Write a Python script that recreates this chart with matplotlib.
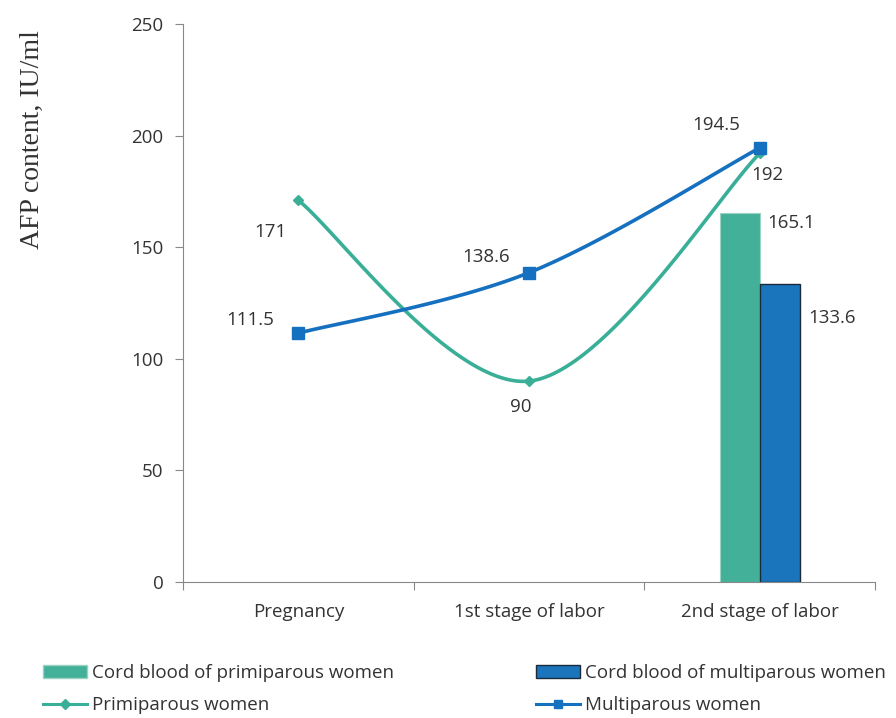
import numpy as np
import matplotlib.pyplot as plt
from matplotlib.lines import Line2D
from matplotlib.patches import Patch

categories = ['Pregnancy', '1st stage of labor', '2nd stage of labor']
primiparous = [171, 90, 192]
multiparous = [111.5, 138.6, 194.5]
cord_primiparous = 165.1
cord_multiparous = 133.6

teal = '#3AAF98'
blue = '#1570BF'
bar_teal = '#43B09A'
bar_blue = '#1B75BC'

W, H = 896, 718


def smooth(xs, ys, n=60):
    # Excel-style smoothed line (Catmull-Rom Bezier segments)
    pts = np.column_stack([xs, ys]).astype(float)
    ext = np.vstack([pts[0], pts, pts[-1]])
    out = []
    for i in range(len(pts) - 1):
        p0, p1, p2, p3 = ext[i], ext[i + 1], ext[i + 2], ext[i + 3]
        c1 = p1 + (p2 - p0) / 6
        c2 = p2 - (p3 - p1) / 6
        t = np.linspace(0, 1, n)[:, None]
        seg = ((1 - t) ** 3) * p1 + 3 * ((1 - t) ** 2) * t * c1 + 3 * (1 - t) * t ** 2 * c2 + t ** 3 * p2
        out.append(seg)
    out = np.vstack(out)
    return out[:, 0], out[:, 1]


fig = plt.figure(figsize=(W / 100, H / 100), dpi=100)
ax = fig.add_axes([183 / W, 1 - 582 / H, 692 / W, 558 / H])

x = np.arange(len(categories)) + 0.5
bw = 0.173

ax.bar(x[2] - bw / 2, cord_primiparous, width=bw, color=bar_teal, edgecolor='#9ad3c4', linewidth=0.8, zorder=2)
ax.bar(x[2] + bw / 2, cord_multiparous, width=bw, color=bar_blue, edgecolor='#1a2a3a', linewidth=1.0, zorder=2)

sx, sy = smooth(x, primiparous)
ax.plot(sx, sy, color=teal, lw=2.6, zorder=3)
ax.plot(x, primiparous, 'D', color=teal, ms=5, zorder=4)
sx, sy = smooth(x, multiparous)
ax.plot(sx, sy, color=blue, lw=2.6, zorder=3)
ax.plot(x, multiparous, 's', color=blue, ms=8, zorder=4)

ax.set_xlim(0, 3)
ax.set_ylim(0, 250)
ax.set_yticks(range(0, 251, 50))
ax.set_xticks([0, 1, 2, 3])
ax.set_xticklabels([])
for xi, c in zip(x, categories):
    ax.annotate(c, (xi, 0), xytext=(0, -30), textcoords='offset pixels', ha='center', va='center',
                fontsize=13.5, color='#333333', family='Open Sans')

for s in ['top', 'right']:
    ax.spines[s].set_visible(False)
for s in ['left', 'bottom']:
    ax.spines[s].set_color('#888888')
ax.tick_params(axis='y', colors='#888888', labelcolor='#333333', labelsize=13.5, length=6, pad=8)
ax.tick_params(axis='x', colors='#888888', length=6)
for t in ax.get_yticklabels():
    t.set_family('Open Sans')

fig.text(32 / W, 1 - 140 / H, 'AFP content, IU/ml', rotation=90, ha='center', va='center',
         family='Liberation Serif', fontsize=20, color='#333333')

lab = dict(fontsize=13.5, color='#333333', family='Open Sans', textcoords='offset pixels',
           ha='center', va='center')
ax.annotate(f'{primiparous[0]:g}', (x[0], primiparous[0]), xytext=(-28, -32), **lab)
ax.annotate(f'{multiparous[0]:g}', (x[0], multiparous[0]), xytext=(-48, 13), **lab)
ax.annotate(f'{multiparous[1]:g}', (x[1], multiparous[1]), xytext=(-43, 16), **lab)
ax.annotate(f'{primiparous[1]:g}', (x[1], primiparous[1]), xytext=(-8, -26), **lab)
ax.annotate(f'{multiparous[2]:g}', (x[2], multiparous[2]), xytext=(-43, 23), **lab)
ax.annotate(f'{primiparous[2]:g}', (x[2], primiparous[2]), xytext=(8, -22), **lab)
ax.annotate(f'{cord_primiparous:g}', (x[2], cord_primiparous), xytext=(32, -10), **lab)
ax.annotate(f'{cord_multiparous:g}', (x[2] + bw, cord_multiparous), xytext=(32, -34), **lab)

col1 = [
    Patch(facecolor=bar_teal, edgecolor='#9ad3c4', label='Cord blood of primiparous women'),
    Line2D([], [], color=teal, lw=2.2, marker='D', ms=5, label='Primiparous women'),
]
col2 = [
    Patch(facecolor=bar_blue, edgecolor='#1a2a3a', label='Cord blood of multiparous women'),
    Line2D([], [], color=blue, lw=2.2, marker='s', ms=6, label='Multiparous women'),
]
leg_kw = dict(loc='upper left', frameon=False, prop={'family': 'Open Sans', 'size': 13.5},
              handlelength=2.35, handletextpad=0.25, labelspacing=0.75, labelcolor='#333333',
              borderpad=0, borderaxespad=0)
fig.legend(handles=col1, bbox_to_anchor=(43 / W, 1 - 664 / H), **leg_kw)
fig.legend(handles=col2, bbox_to_anchor=(536 / W, 1 - 664 / H), **leg_kw)

fig.savefig('out.png', dpi=100)
